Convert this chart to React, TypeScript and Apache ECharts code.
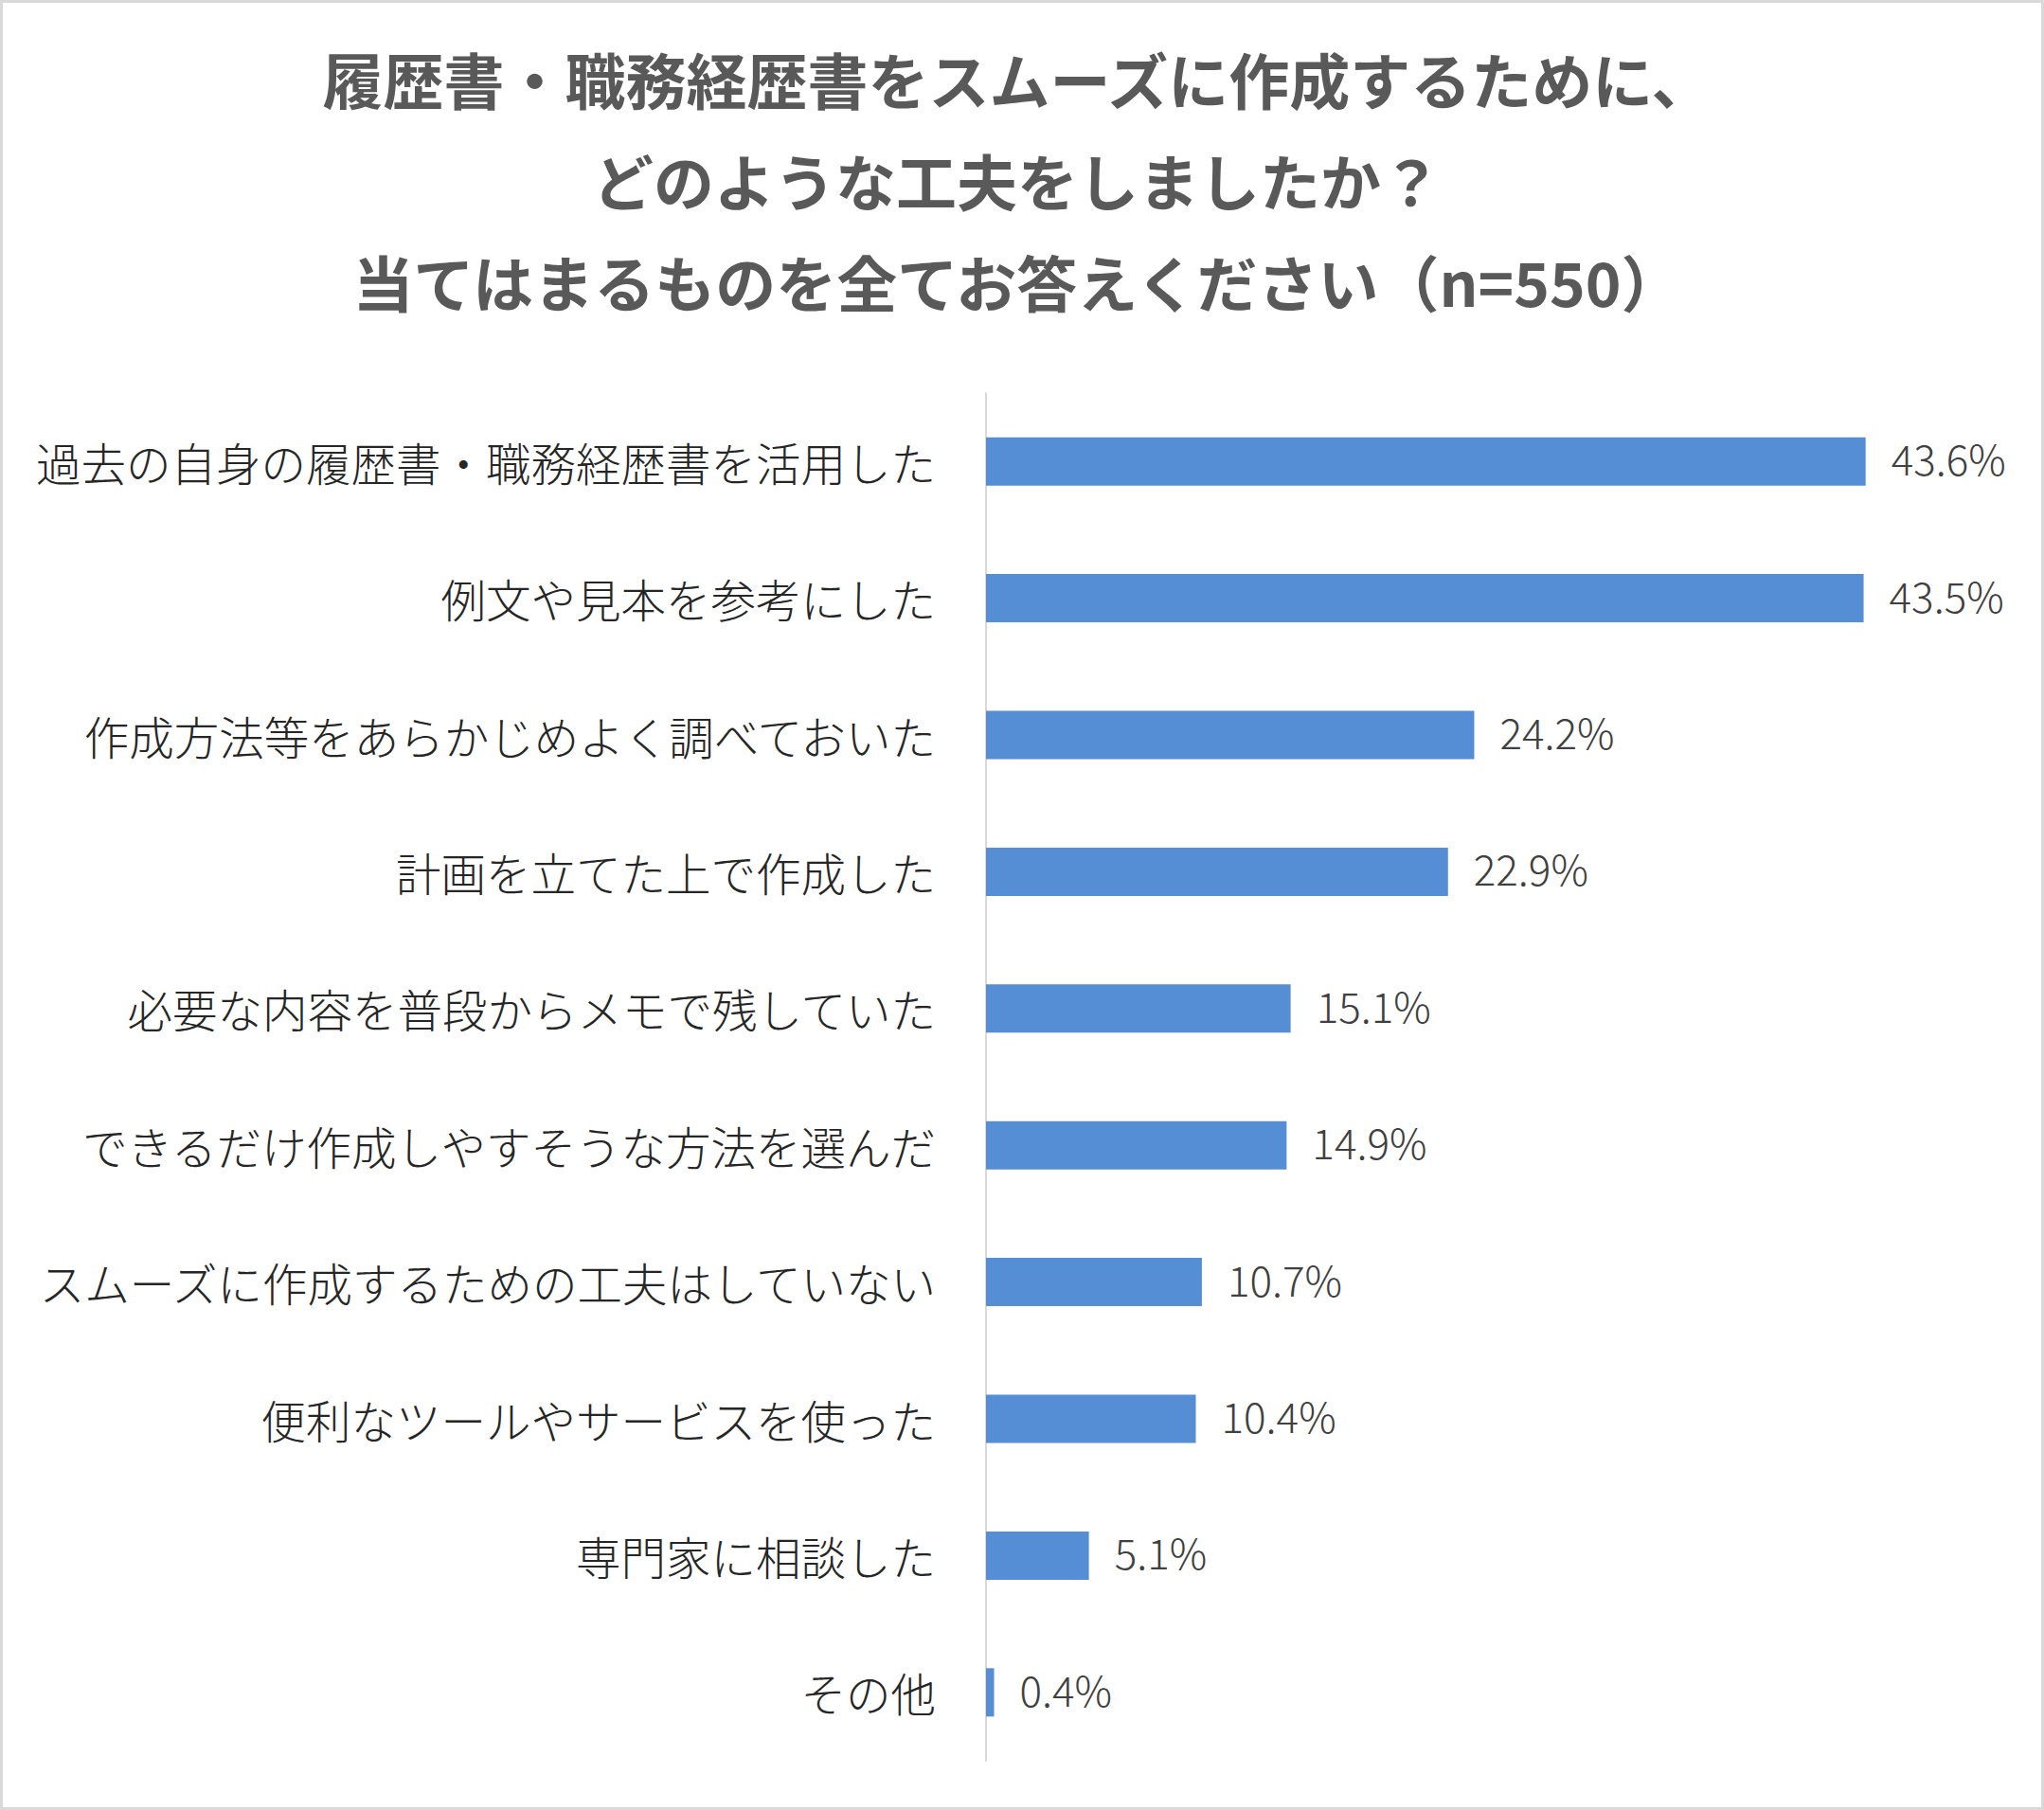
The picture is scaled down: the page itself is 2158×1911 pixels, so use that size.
import React, { useEffect, useRef } from "react";
import * as echarts from "echarts";

const titleLines = [
  "履歴書・職務経歴書をスムーズに作成するために、",
  "どのような工夫をしましたか？",
  "当てはまるものを全てお答えください（n=550）",
];

const categories = [
  "過去の自身の履歴書・職務経歴書を活用した",
  "例文や見本を参考にした",
  "作成方法等をあらかじめよく調べておいた",
  "計画を立てた上で作成した",
  "必要な内容を普段からメモで残していた",
  "できるだけ作成しやすそうな方法を選んだ",
  "スムーズに作成するための工夫はしていない",
  "便利なツールやサービスを使った",
  "専門家に相談した",
  "その他",
];

const values = [43.6, 43.5, 24.2, 22.9, 15.1, 14.9, 10.7, 10.4, 5.1, 0.4];

const W = 2158;
const H = 1911;

export default function App() {
  const ref = useRef<HTMLDivElement>(null);

  useEffect(() => {
    if (!ref.current) return;
    const chart = echarts.init(ref.current, null, { renderer: "svg", width: W, height: H });
    const font = '"Noto Sans CJK JP", "Noto Sans", sans-serif';
    const titleY = [82, 189, 296];
    chart.setOption({
      animation: false,
      backgroundColor: "#ffffff",
      graphic: [
        {
          type: "rect",
          shape: { x: 1.5, y: 1.5, width: W - 3, height: H - 3 },
          style: { fill: "none", stroke: "#d9d9d9", lineWidth: 3 },
          silent: true,
        },
        ...titleLines.map((t, i) => ({
          type: "text",
          x: 1074,
          y: titleY[i],
          silent: true,
          style: {
            text: t,
            fontFamily: font,
            fontSize: 64,
            fontWeight: "bold",
            fill: "#595959",
            textAlign: "center",
            textVerticalAlign: "middle",
          },
        })),
      ],
      grid: {
        left: 1041,
        top: 415,
        width: 958.5,
        height: 1444,
        containLabel: false,
      },
      xAxis: {
        type: "value",
        min: 0,
        max: 45,
        show: false,
        splitLine: { show: false },
      },
      yAxis: {
        type: "category",
        data: categories,
        inverse: true,
        axisTick: { show: false },
        axisLine: { show: true, lineStyle: { color: "#d9d9d9", width: 2 } },
        axisLabel: {
          margin: 53,
          fontFamily: font,
          fontSize: 47.5,
          fontWeight: 300,
          color: "#262626",
          padding: [0, 0, 12, 0],
        },
      },
      series: [
        {
          type: "bar",
          data: values,
          barWidth: 51,
          itemStyle: { color: "#558ed5" },
          label: {
            show: true,
            position: "right",
            distance: 27,
            offset: [0, -4],
            formatter: (p: any) => p.value.toFixed(1) + "%",
            fontFamily: font,
            fontSize: 44,
            fontWeight: 300,
            color: "#404040",
          },
        },
      ],
    });
    return () => chart.dispose();
  }, []);

  return (
    <div
      ref={ref}
      style={{ position: "absolute", left: 0, top: 0, width: W, height: H }}
    />
  );
}
